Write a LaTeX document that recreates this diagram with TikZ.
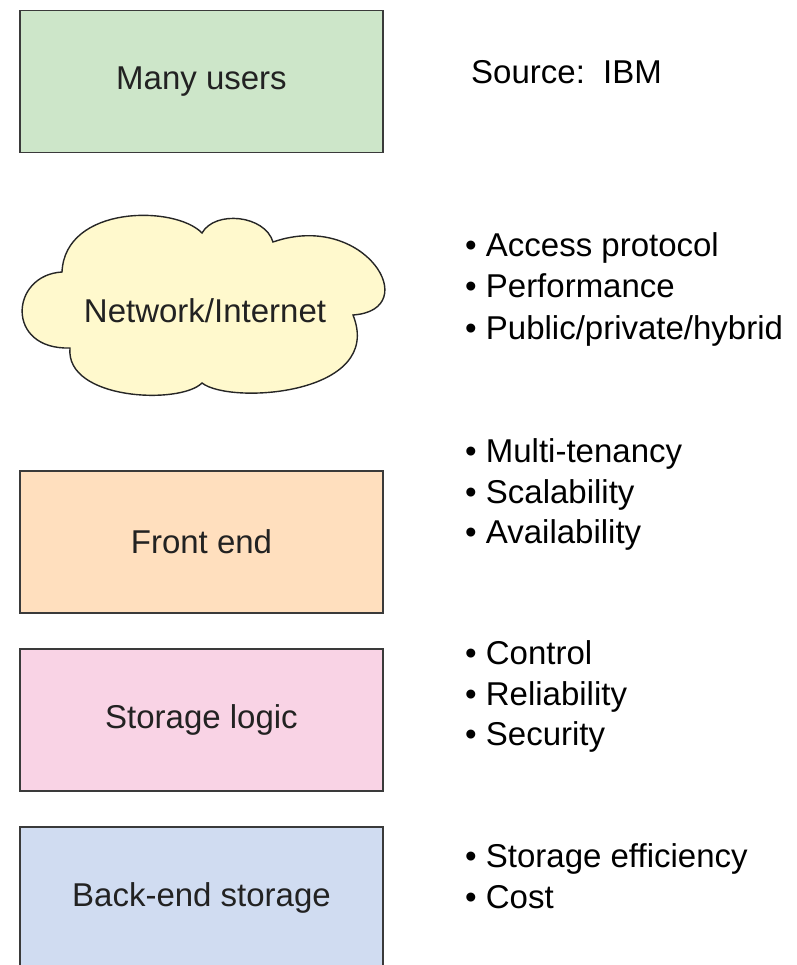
\documentclass[tikz,border=0pt]{standalone}
\usepackage{fontspec}
\setmainfont{Liberation Sans}
\definecolor{boxline}{HTML}{3A3A3A}
\definecolor{usersfill}{HTML}{CDE6C9}
\definecolor{cloudfill}{HTML}{FFF9CD}
\definecolor{frontfill}{HTML}{FFDFBE}
\definecolor{logicfill}{HTML}{F9D3E5}
\definecolor{backfill}{HTML}{D0DCF1}
\definecolor{boxtext}{HTML}{222222}
\begin{document}
\begin{tikzpicture}[x=1pt,y=-1pt,
  layerbox/.style={draw=boxline, line width=1.6pt, minimum width=363pt, minimum height=142pt,
    inner sep=0pt, text=boxtext, font=\fontsize{33}{38}\selectfont},
  bullettext/.style={anchor=base west, inner sep=0pt, font=\fontsize{33}{38}\selectfont, text=black},
  cloudline/.style={draw=black!85, line width=1.4pt, fill=cloudfill}]
\useasboundingbox (0,0) rectangle (796,965);
\clip (0,0) rectangle (796,965);
% layer boxes
\node[layerbox, fill=usersfill] (users) at (201.5,81.5) {Many users};
\node[layerbox, fill=frontfill] (front) at (201.5,542) {Front end};
\node[layerbox, fill=logicfill] (logic) at (201.5,720) {Storage logic};
\node[layerbox, fill=backfill] (back) at (201.5,898) {Back-end storage};
% cloud
\path[cloudline] (62,272)
  .. controls (10,275) and (5,350) .. (70,348)
  .. controls (65,400) and (180,405) .. (202,383)
  .. controls (230,405) and (385,395) .. (353,315)
  .. controls (425,310) and (365,210) .. (273,242)
  .. controls (265,215) and (215,210) .. (202,233)
  .. controls (175,205) and (65,205) .. (62,272) -- cycle;
\node[inner sep=0pt, text=boxtext, font=\fontsize{33}{38}\selectfont] (net) at (205,311) {Network/Internet};
% source
\node[bullettext] (src) at (471,83.5) {Source:\ \ IBM};
% bullet lists
\node[bullettext] (n1) at (465,257) {• Access protocol};
\node[bullettext] (n2) at (465,298) {• Performance};
\node[bullettext] (n3) at (465,339) {• Public/private/hybrid};
\node[bullettext] (f1) at (465,462) {• Multi-tenancy};
\node[bullettext] (f2) at (465,503) {• Scalability};
\node[bullettext] (f3) at (465,543) {• Availability};
\node[bullettext] (l1) at (465,664) {• Control};
\node[bullettext] (l2) at (465,705) {• Reliability};
\node[bullettext] (l3) at (465,745) {• Security};
\node[bullettext] (b1) at (465,867) {• Storage efficiency};
\node[bullettext] (b2) at (465,908) {• Cost};
\end{tikzpicture}
\end{document}
